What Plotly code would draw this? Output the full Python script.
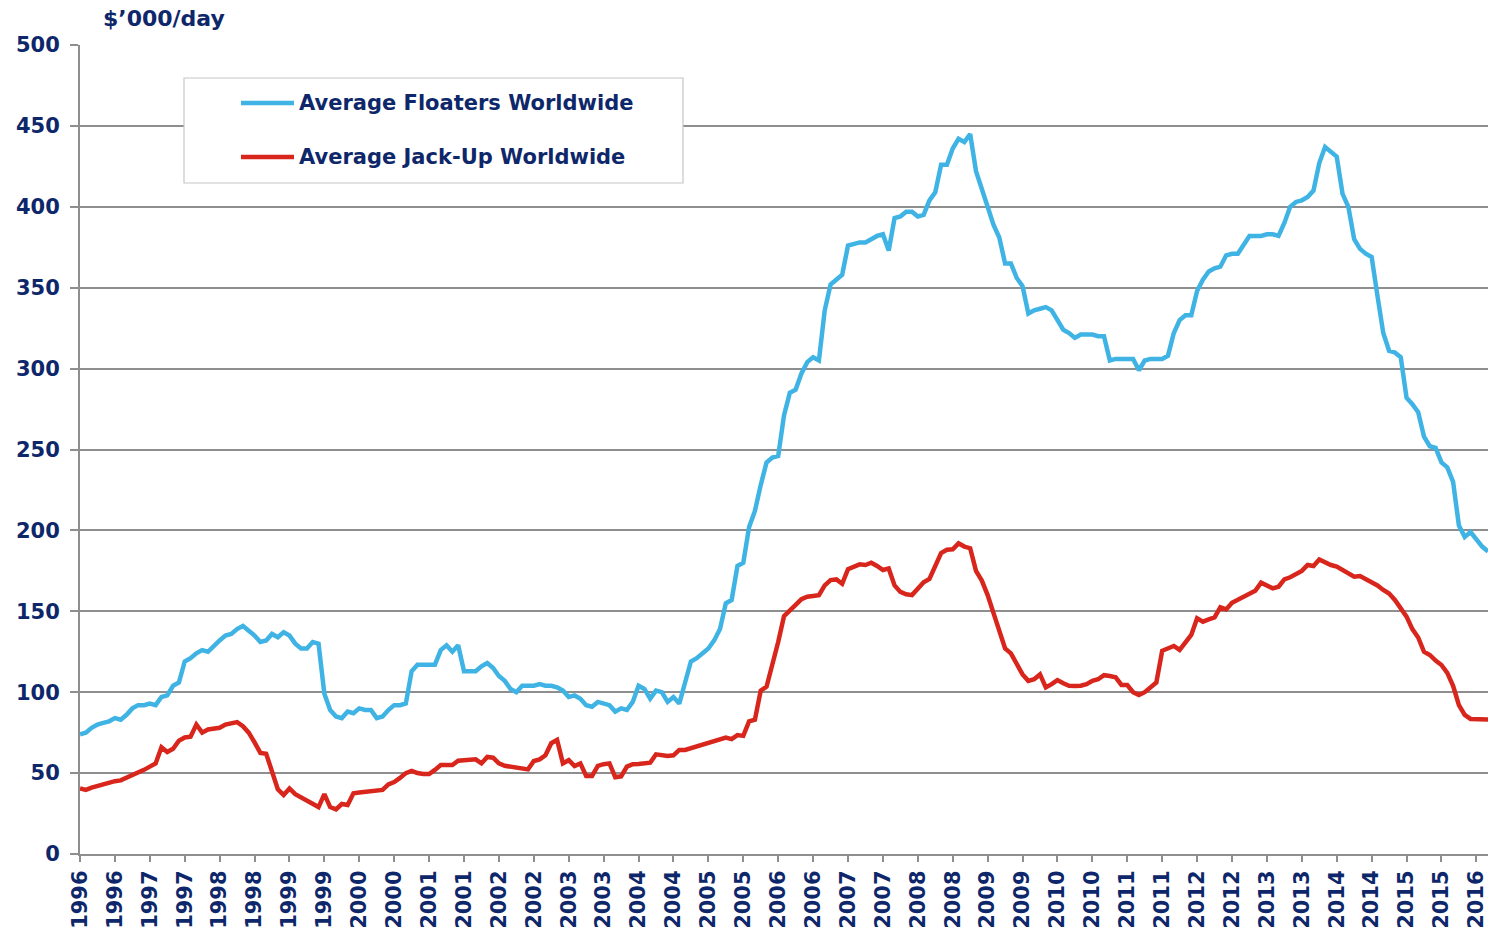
import pandas as pd
import plotly.graph_objects as go

# Monthly categories Jan-1996 .. Mar-2016
months = [d.strftime("%b-%Y") for d in pd.date_range("1996-01-01", "2016-03-01", freq="MS")]

# Average day rates, $'000/day
floaters = [
    74, 75, 78, 80, 81, 82, 84, 83, 86, 90, 92, 92,            # 1996
    93, 92, 97, 98, 104, 106, 119, 121, 124, 126, 125, 129,    # 1997
    132, 135, 136, 139, 141, 138, 135, 131, 132, 136, 134, 137,  # 1998
    135, 130, 127, 127, 131, 130, 99, 89, 85, 84, 88, 87,      # 1999
    90, 89, 89, 84, 85, 89, 92, 92, 93, 113, 117, 117,         # 2000
    117, 117, 126, 129, 125, 129, 113, 113, 113, 116, 118, 115,  # 2001
    110, 107, 102, 100, 104, 104, 104, 105, 104, 104, 103, 101,  # 2002
    97, 98, 96, 92, 91, 94, 93, 92, 88, 90, 89, 94,            # 2003
    104, 102, 96, 101, 100, 94, 97, 93, 106, 119, 121, 124,    # 2004
    127, 132, 139, 155, 157, 178, 180, 202, 212, 228, 242, 245,  # 2005
    246, 271, 285, 287, 297, 304, 307, 305, 336, 352, 355, 358,  # 2006
    376, 377, 378, 378, 380, 382, 383, 373, 393, 394, 397, 397,  # 2007
    394, 395, 404, 409, 426, 426, 436, 442, 440, 445, 422, 412,  # 2008
    400, 389, 381, 365, 365, 356, 351, 334, 336, 337, 338, 336,  # 2009
    330, 324, 322, 319, 321, 321, 321, 320, 320, 305, 306, 306,  # 2010
    306, 306, 299, 305, 306, 306, 306, 308, 322, 330, 333, 333,  # 2011
    348, 355, 360, 362, 363, 370, 371, 371, 376, 382, 382, 382,  # 2012
    383, 383, 382, 390, 400, 403, 404, 406, 410, 427, 437, 434,  # 2013
    431, 408, 400, 380, 374, 371, 369, 345, 322, 311, 310, 307,  # 2014
    282, 278, 273, 258, 252, 251, 242, 239, 230, 203, 196, 199,  # 2015
    194, 190, 187,                                              # 2016
]

jackups = [
    40.5, 39.6, 41, 42, 43, 44.5, 45, 45.5, 47, 49, 50, 52,
    54, 56, 66, 63, 65, 70, 72, 72.5, 80, 75, 77, 77.5,
    78, 80, 81, 81.5, 79, 75, 69, 62.5, 62, 52, 40, 36.5,
    40.5, 37, 35, 33, 31, 29, 37, 29, 27.6, 30.9, 30.3, 37.5,
    38, 38.5, 38.5, 39, 39.6, 43, 44.5, 47, 50, 51.4, 50, 49.5,
    49.4, 52, 55, 55, 55, 57.7, 58, 58.5, 58.5, 56, 60, 59.5,
    56, 54.5, 54, 54, 53, 52.3, 57.5, 58.5, 61, 68.5, 70.5, 56,
    58, 54.4, 56, 48.2, 48.2, 54.5, 55.5, 56, 47.4, 48, 54, 55.5,
    55.6, 56, 56.4, 61.6, 61, 60.6, 61, 64.3, 64.3, 65.5, 66.3, 67.5,
    68.5, 70, 71, 72, 71, 73.5, 73, 82, 83, 101, 103.4, 116,
    131, 147, 151, 154, 157.5, 159, 159.5, 160, 166, 169.3, 169.7, 167,
    176, 177.5, 179, 178.6, 180, 178, 175.5, 176.5, 166, 162, 160.5, 160,
    164, 168, 170, 177.5, 186, 188, 188.3, 192, 190, 189, 175, 169,
    160, 149, 139, 127, 124, 117, 111, 107, 108, 111, 103, 105,
    107.5, 105.5, 104, 103.8, 104, 105, 107, 108, 110.5, 110, 109.2, 104.5,
    104.4, 100, 98.3, 100, 103, 106, 125.6, 127, 128.6, 126.1, 131, 135.4,
    145.7, 143.6, 145, 146.2, 152.5, 151.2, 155.3, 157, 158.6, 161, 162.7, 167.7,
    166, 164.2, 165.2, 169.7, 171, 173, 175, 178.6, 178, 182, 180, 178.6,
    177.6, 175.5, 173.5, 171.4, 171.8, 170, 168.3, 166, 163.2, 161, 157, 152,
    146.7, 139, 133.8, 125, 123, 119.5, 116.8, 112, 104, 92, 86, 83.5,
    83.2, 83.2, 83.2,
]

series_names = ["Average Floaters Worldwide", "Average Jack-Up Worldwide"]
y_ticks = list(range(0, 501, 50))
tick_months = months[::6]
tick_text = [m[-4:] for m in tick_months]

BLUE = "#3fb4e4"
RED = "#d8261c"
NAVY = "#0e276a"
GRID = "#8e8e8e"
FONT = "DejaVu Sans"

fig = go.Figure()
fig.add_trace(go.Scatter(x=months, y=floaters, mode="lines", name=series_names[0],
                         line=dict(color=BLUE, width=4.5), showlegend=False))
fig.add_trace(go.Scatter(x=months, y=jackups, mode="lines", name=series_names[1],
                         line=dict(color=RED, width=4.5), showlegend=False))

L, R, T, B = 80, 2, 45, 80
W, H = 1490, 934
pw, ph = W - L - R, H - T - B

def px(xp):
    return (xp - L) / pw

def py(yp):
    return (H - B - yp) / ph

# legend box (drawn manually)
shapes = [dict(type="rect", xref="paper", yref="paper",
               x0=px(184), x1=px(683), y0=py(183), y1=py(78),
               line=dict(color="#c6c6c6", width=1.2), fillcolor="white", layer="above")]
annotations = []
for name, col, yy in [(series_names[0], BLUE, 103), (series_names[1], RED, 157)]:
    shapes.append(dict(type="line", xref="paper", yref="paper",
                       x0=px(241), x1=px(294), y0=py(yy), y1=py(yy),
                       line=dict(color=col, width=4.5), layer="above"))
    annotations.append(dict(x=px(297), y=py(yy), xref="paper", yref="paper",
                            text=name, showarrow=False, xanchor="left", yanchor="middle",
                            font=dict(family=FONT, size=21, color=NAVY, weight="bold")))

annotations.append(dict(x=px(101), y=py(18), xref="paper", yref="paper",
                        text="$\u2019000/day", showarrow=False, xanchor="left", yanchor="middle",
                        font=dict(family=FONT, size=22, color=NAVY, weight="bold")))

fig.update_layout(
    width=W, height=H,
    margin=dict(l=L, r=R, t=T, b=B),
    paper_bgcolor="white", plot_bgcolor="white",
    shapes=shapes, annotations=annotations,
    xaxis=dict(type="category", range=[0, len(months) - 1],
               tickmode="array", tickvals=tick_months, ticktext=tick_text,
               tickangle=-90, ticks="outside", ticklen=6, tickcolor=GRID, tickwidth=1.5,
               showgrid=False, showline=True, linecolor=GRID, linewidth=2,
               tickfont=dict(family=FONT, size=21, color=NAVY, weight="bold"),
               zeroline=False),
    yaxis=dict(range=[0, 500], tickmode="array", tickvals=y_ticks,
               ticks="outside", ticklen=8, tickcolor=GRID, tickwidth=1.5,
               showgrid=True, gridcolor=GRID, gridwidth=1.5,
               showline=True, linecolor=GRID, linewidth=2,
               tickfont=dict(family=FONT, size=21, color=NAVY, weight="bold"),
               ticklabelstandoff=6, zeroline=False),
)

fig.write_html("out.html", config={"displayModeBar": False},
               post_script="document.body.style.margin='0px';document.body.style.padding='0px';")
